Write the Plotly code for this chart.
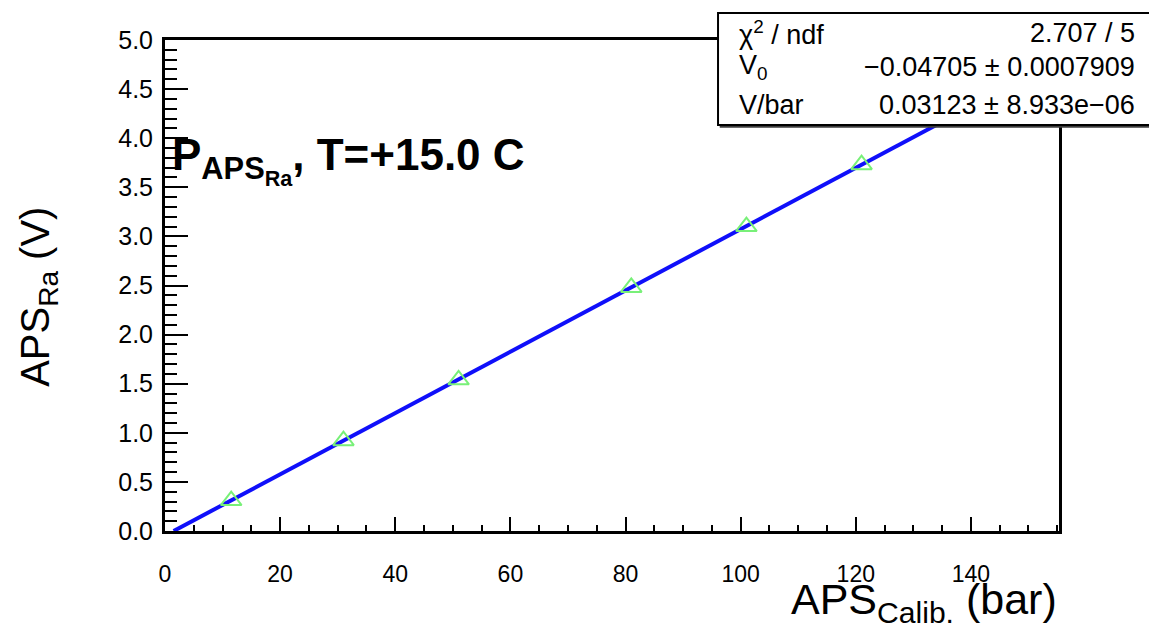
import plotly.graph_objects as go

# ------------------------------------------------------------------------------------------
# ------------------------------------- Data -----------------------------------------------
# ------------------------------------------------------------------------------------------
calib_bar = [11.5, 31.0, 51.0, 81.0, 101.0, 121.0, 141.0]   # APS Calib. (bar)
aps_ra_volt = [0.31, 0.92, 1.54, 2.48, 3.10, 3.73, 4.36]     # APS Ra (V)

fit_bar = [1.5, 155.3]     # fitted line, ends
fit_volt = [0.0, 4.80]

x_ticks = [0, 20, 40, 60, 80, 100, 120, 140]
y_ticks = [0.0, 0.5, 1.0, 1.5, 2.0, 2.5, 3.0, 3.5, 4.0, 4.5, 5.0]

stats_labels = ['χ<sup>2</sup> / ndf', 'V<sub>0</sub>', 'V/bar']
stats_values = ['2.707 / 5', '−0.04705 ± 0.0007909', '0.03123 ± 8.933e−06']

FONT = 'Liberation Sans, Arial, Helvetica, sans-serif'

# ------------------------------------------------------------------------------------------
# ------------------------------------ Figure ----------------------------------------------
# ------------------------------------------------------------------------------------------
fig = go.Figure()

fig.add_trace(
    go.Scatter(
        x=fit_bar,
        y=fit_volt,
        mode='lines',
        line=dict(color='rgb(15,15,250)', width=4),
        showlegend=False
    )
)

fig.add_trace(
    go.Scatter(
        x=calib_bar,
        y=aps_ra_volt,
        mode='markers',
        marker=dict(symbol='triangle-up-open', size=18, color='rgb(120,240,120)',
                    line=dict(width=2, color='rgb(120,240,120)')),
        showlegend=False
    )
)

# ------------------------------------------------------------------------------------------
# ------------------------------------ Layout ----------------------------------------------
# ------------------------------------------------------------------------------------------
axis_common = dict(
    showgrid=False,
    zeroline=False,
    showline=True,
    linecolor='black',
    linewidth=3,
    mirror=True,
    ticks='inside',
    tickcolor='black',
    tickwidth=2,
)

# the page body adds 8px around the plot, so the margins are shifted by that much
fig.update_layout(
    width=1157,
    height=636,
    margin=dict(l=157, r=106, t=32, b=113),
    paper_bgcolor='white',
    plot_bgcolor='white',
    font=dict(family=FONT, color='black'),
    xaxis=dict(
        range=[0, 155.3],
        tickvals=x_ticks,
        ticklen=14,
        ticklabelstandoff=20,
        tickfont=dict(size=23),
        minor=dict(dtick=5, ticks='inside', ticklen=6, tickwidth=2, tickcolor='black'),
        **axis_common
    ),
    yaxis=dict(
        range=[0, 5.0],
        tickvals=y_ticks,
        tickformat='.1f',
        ticklen=23,
        ticklabelstandoff=4,
        tickfont=dict(size=25),
        minor=dict(dtick=0.1, ticks='inside', ticklen=12, tickwidth=2, tickcolor='black'),
        **axis_common
    ),
)

# axis titles
fig.add_annotation(
    text='APS<sub>Calib.</sub> (bar)', xref='paper', yref='paper',
    x=1.0, y=-0.145, xanchor='right', yanchor='middle',
    showarrow=False, font=dict(size=43)
)
fig.add_annotation(
    text='APS<sub>Ra</sub> (V)', xref='paper', yref='paper',
    x=-0.142, y=0.477, xanchor='center', yanchor='middle', textangle=-90,
    showarrow=False, font=dict(size=40)
)

# label in the plot
fig.add_annotation(
    text='<b>P<sub>APS<sub>Ra</sub></sub>, T=+15.0 C</b>', xref='paper', yref='paper',
    x=0.006, y=0.7556, xanchor='left', yanchor='middle',
    showarrow=False, font=dict(size=44)
)

# stats box with a thin shadow along the bottom
fig.add_shape(
    type='line', xref='paper', yref='paper',
    x0=0.6205, x1=1.13, y0=0.8232, y1=0.8232,
    line=dict(color='rgb(60,60,60)', width=2), layer='above'
)
fig.add_shape(
    type='rect', xref='paper', yref='paper',
    x0=0.6186, x1=1.13, y0=0.8269, y1=1.055,
    line=dict(color='black', width=2), fillcolor='white', layer='above'
)
row_y = [1.0143, 0.945, 0.8676]
for label, value, yy in zip(stats_labels, stats_values, row_y):
    fig.add_annotation(text=label, xref='paper', yref='paper', x=0.6398, y=yy,
                       xanchor='left', yanchor='middle', showarrow=False, font=dict(size=27))
    fig.add_annotation(text=value, xref='paper', yref='paper', x=1.0872, y=yy,
                       xanchor='right', yanchor='middle', showarrow=False, font=dict(size=27))

fig.write_html('out.html')
